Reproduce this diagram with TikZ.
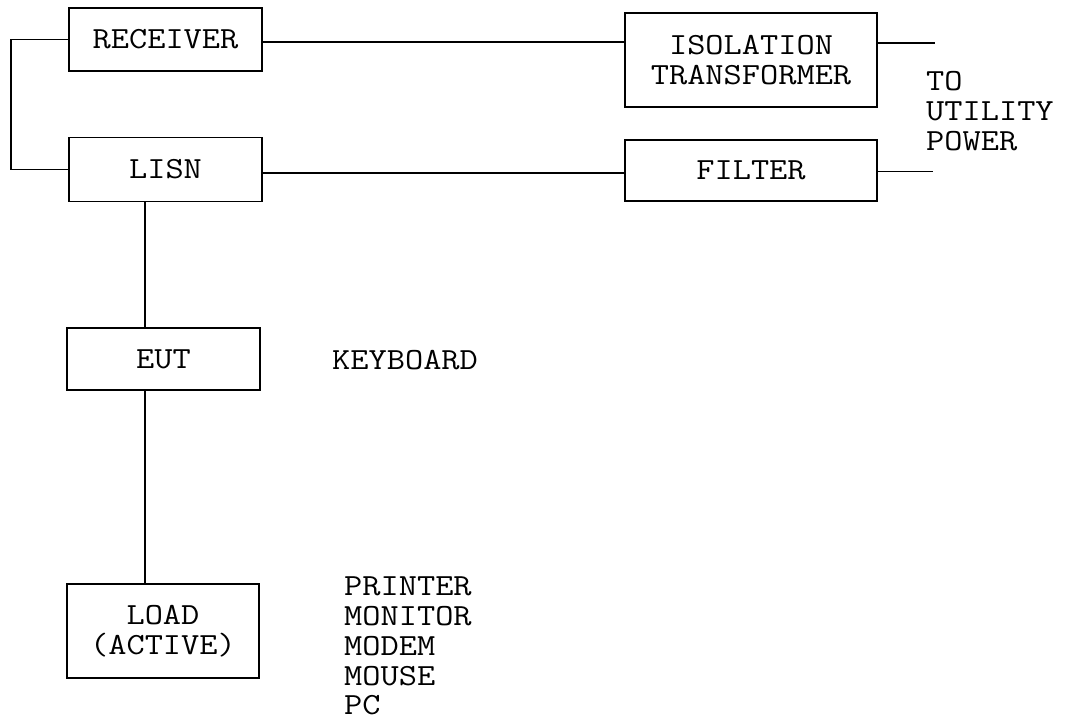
\documentclass[tikz,border=0pt]{standalone}
\usepackage{fontspec}
\setmonofont[FakeStretch=1.15]{Latin Modern Mono}
\usetikzlibrary{positioning, calc}

\begin{document}
\begin{tikzpicture}[
        font=\ttfamily\fontsize{17.5}{17}\selectfont,
        box/.style={rectangle, draw, line width=0.8pt, align=center, inner sep=0pt},
        link/.style={line width=0.8pt},
        note/.style={anchor=west, align=left}
    ]
    \useasboundingbox (0,0) rectangle (21.36,-14.46);

    % Boxes on the left
    \node[box, minimum width=3.86cm, minimum height=1.26cm] (rcv) at (3.31,-0.79) {RECEIVER};
    \node[box, minimum width=3.86cm, minimum height=1.28cm, below=1.30cm of rcv] (lisn) {LISN};
    \node[box, minimum width=3.86cm, minimum height=1.24cm] (eut) at (3.27,-7.18) {EUT};
    \node[box, minimum width=3.84cm, minimum height=1.88cm] (load) at (3.26,-12.62) {LOAD\\(ACTIVE)};

    % Boxes on the right
    \node[box, minimum width=5.04cm, minimum height=1.88cm] (iso) at (15.02,-1.20) {ISOLATION\\TRANSFORMER};
    \node[box, minimum width=5.04cm, minimum height=1.22cm] (filter) at (15.02,-3.41) {FILTER};

    % Labels
    \node[note] (power) at (18.40,-2.22) {TO\\UTILITY\\POWER};
    \node[note] (kbd) at (6.52,-7.20) {KEYBOARD};
    \node[note] (loads) at (6.76,-12.92) {PRINTER\\MONITOR\\MODEM\\MOUSE\\PC};

    % Free ends
    \coordinate (lp) at (0.22,0);
    \coordinate (up) at (18.70,-0.86);
    \coordinate (dn) at (18.66,-3.43);

    % Connections
    \draw[link] (rcv.west) -- (rcv.west -| lp) |- (lisn.west);
    \draw[link] ([yshift=-0.05cm]rcv.east) -- ([yshift=-0.05cm]rcv.east -| iso.west);
    \draw[link] (up -| iso.east) -- (up);
    \draw[link] ([yshift=-0.07cm]lisn.east) -- ([yshift=-0.07cm]lisn.east -| filter.west);
    \draw[link] (filter.east |- dn) -- (dn);
    \draw[link] ([xshift=-0.41cm]lisn.south) -- ([xshift=-0.41cm]lisn.south |- eut.north);
    \draw[link] ([xshift=-0.37cm]eut.south) -- ([xshift=-0.37cm]eut.south |- load.north);
\end{tikzpicture}
\end{document}
